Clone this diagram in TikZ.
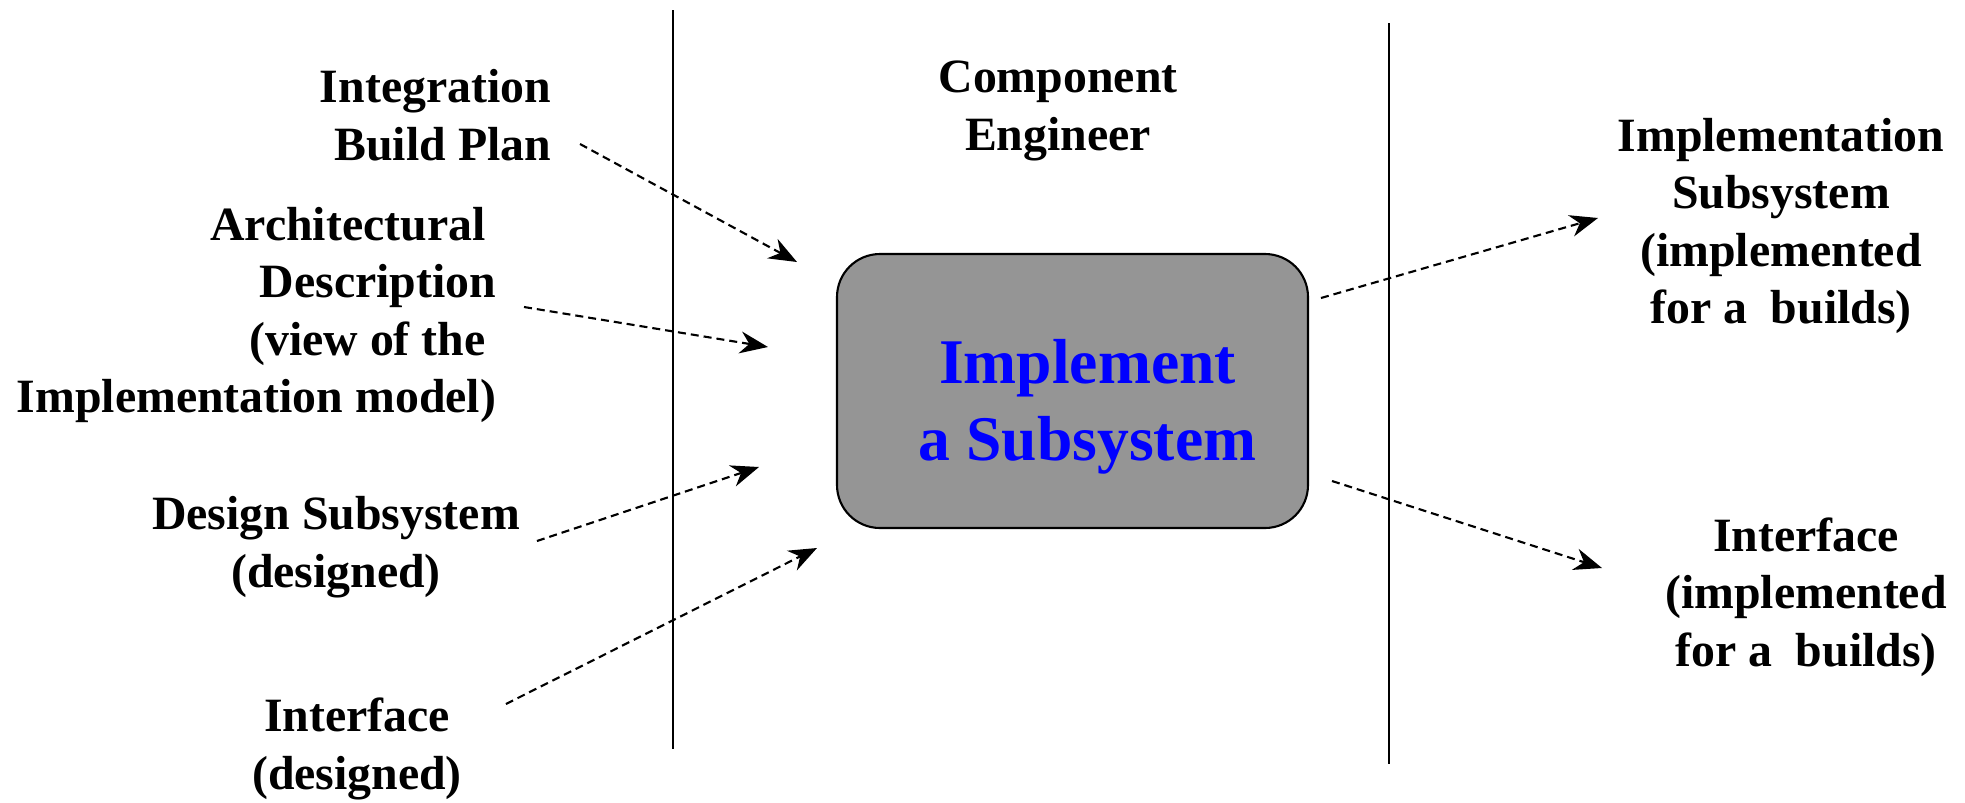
\documentclass[tikz,border=0pt]{standalone}
\usepackage{fontspec}
\setmainfont{Liberation Serif}
\usetikzlibrary{arrows.meta}
\definecolor{boxgray}{RGB}{149,149,149}
\begin{document}
\begin{tikzpicture}[
            x=1cm,
            y=1cm,
            role label/.style={inner sep=0pt, outer sep=0pt, align=center, font=\fontsize{13.6}{16.4}\selectfont\bfseries},
            activity box/.style={draw, line width=0.6pt, fill=boxgray, rounded corners=0.43cm, minimum width=4.71cm, minimum height=2.74cm, inner sep=0pt, outer sep=0pt, align=center, text=blue, font=\fontsize{18.1}{21.9}\selectfont\bfseries},
            flow arrow/.style={line width=0.6pt, dash pattern=on 0.08cm off 0.05cm, -{Stealth[length=0.28cm, width=0.22cm]}},
            swim line/.style={line width=0.6pt}
        ]
        \useasboundingbox (0,0) rectangle (19.65,-8.02);
        % swim lanes
        \coordinate (lt) at (6.73,-0.10);
        \coordinate (lb) at (6.73,-7.49);
        \coordinate (rt) at (13.89,-0.23);
        \coordinate (rb) at (13.89,-7.64);
        \draw[swim line] (lt) -- (lb);
        \draw[swim line] (rt) -- (rb);
        % inputs
        \node[role label, align=right, anchor=east] (ibp) at (5.51,-1.15) {Integration\\Build Plan};
        \node[role label, align=right, anchor=east] (arch) at (4.96,-3.15) {Architectural\kern0.22em\\Description\\(view of the\kern0.22em\\Implementation model)};
        \node[role label] (des) at (3.36,-5.47) {Design Subsystem\\(designed)};
        \node[role label] (ifin) at (3.57,-7.49) {Interface\\(designed)};
        % worker and activity
        \node[role label] (comp) at (10.58,-1.11) {Component\\Engineer};
        \node[activity box] (impl) at (10.725,-3.91) {\rule{0pt}{0.75cm}\hspace*{0.3cm}Implement\\\hspace*{0.3cm}a Subsystem};
        % outputs
        \node[role label] (out1) at (17.81,-2.26) {Implementation\\Subsystem\\(implemented\\for a~ builds)};
        \node[role label] (out2) at (18.06,-5.97) {Interface\\(implemented\\for a~ builds)};
        % arrow tips
        \coordinate (tip1) at (7.97,-2.62);
        \coordinate (tip2) at (7.68,-3.47);
        \coordinate (tip3) at (7.59,-4.67);
        \coordinate (tip4) at (8.17,-5.48);
        \coordinate (tip5) at (15.98,-2.18);
        \coordinate (tip6) at (16.02,-5.68);
        \foreach \src/\dx/\dy/\tip in {
                ibp.east/0.29/-0.29/tip1,
                arch.east/0.28/0.08/tip2,
                des.east/0.17/0.06/tip3,
                ifin.east/0.44/0.45/tip4,
                impl.east/0.13/0.93/tip5,
                impl.east/0.24/-0.90/tip6%
            } {
                \draw[flow arrow] ([shift={(\dx,\dy)}]\src) -- (\tip);
            }
    \end{tikzpicture}
\end{document}
